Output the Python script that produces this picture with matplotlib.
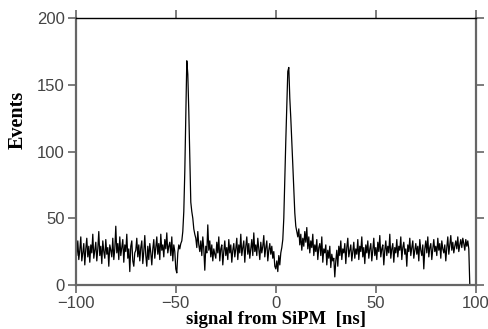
import numpy as np
from matplotlib import pyplot as plt

# Histogram of SiPM signal times, 0.5 ns bins starting at -100 ns
X_START = -100.0
BIN_WIDTH = 0.5

left_baseline = [
    28, 22, 33, 19, 26, 36, 18, 24, 31, 15, 27, 35, 21, 29, 17, 30, 24, 38, 20, 26,
    32, 18, 27, 40, 22, 29, 16, 33, 25, 20, 34, 23, 28, 14, 30, 26, 21, 35, 19, 27,
    44, 24, 31, 19, 36, 22, 28, 34, 17, 30, 25, 38, 20, 27, 10, 29, 33, 18, 14, 24,
    26, 35, 21, 30, 18, 28, 33, 16, 25, 37, 22, 14, 29, 19, 31, 24, 15, 27, 34, 20,
    28, 36, 23, 31, 19, 38, 26, 30, 21, 34, 27, 39, 24, 29, 32, 22, 36, 18, 30, 25,
]
peak1 = [12, 9, 24, 30, 27, 31, 33, 40, 55, 85, 125, 168, 158, 130, 95, 62, 55, 50, 42, 38]
middle = [
    35, 28, 40, 30, 25, 33, 22, 36, 27, 11, 29, 24, 45, 26, 33, 21, 30, 18, 27, 23,
    20, 32, 24, 36, 18, 27, 30, 15, 25, 33, 22, 28, 19, 34, 24, 30, 17, 26, 31, 21,
    27, 35, 19, 30, 24, 38, 22, 28, 33, 17, 29, 36, 23, 31, 20, 27, 34, 22, 39, 25,
    30, 22, 35, 27, 19, 32, 24, 29, 37, 21, 28, 33, 18, 26, 31, 23, 29, 20, 25, 14,
]
peak2 = [12, 18, 10, 22, 15, 24, 28, 34, 50, 80, 108, 135, 160, 163, 140, 125, 108, 90, 72, 54]
right_baseline = [
    44, 40, 36, 42, 30, 38, 26, 35, 29, 40, 32, 43, 27, 36, 24, 33, 28, 38, 22, 30,
    25, 34, 19, 28, 31, 22, 36, 17, 27, 24, 30, 15, 26, 20, 29, 13, 23, 18, 20, 6,
    18, 26, 14, 29, 22, 33, 19, 27, 24, 31, 16, 28, 35, 21, 26, 30, 18, 25, 32, 20,
    27, 23, 34, 19, 29, 25, 36, 21, 28, 16, 30, 24, 33, 20, 27, 31, 18, 26, 35, 22,
    28, 19, 32, 25, 37, 21, 27, 30, 15, 26, 33, 22, 29, 24, 38, 20, 27, 31, 17, 28,
    24, 34, 21, 29, 26, 36, 19, 28, 32, 23, 27, 14, 30, 25, 35, 22, 28, 33, 20, 26,
    31, 23, 29, 18, 34, 26, 22, 30, 12, 27, 33, 24, 36, 21, 28, 31, 19, 27, 34, 25,
    29, 22, 35, 26, 31, 20, 33, 27, 24, 30, 18, 28, 36, 23, 30, 37, 26, 32, 24, 29,
    33, 27, 36, 25, 30, 34, 28, 35, 31, 26, 34, 29, 33, 27, 0,
]

counts = np.array(left_baseline + peak1 + middle + peak2 + right_baseline)
times = X_START + BIN_WIDTH * np.arange(len(counts))

GREY = '#666666'
TICK_GREY = '#444444'

fig = plt.figure(figsize=(4.89, 3.29), dpi=100)
ax = fig.add_axes([0.155, 0.134, 0.818, 0.811])

ax.plot(times, counts, color='black', linewidth=0.9)

ax.set_xlim(-100, 100)
ax.set_ylim(0, 200)
ax.set_xticks([-100, -50, 0, 50, 100])
ax.set_yticks([0, 50, 100, 150, 200])
ax.set_xticklabels(['\u2212100', '\u221250', '0', '50', '100'])

for side in ['left', 'bottom', 'right']:
    ax.spines[side].set_color(GREY)
    ax.spines[side].set_linewidth(1.6)
ax.spines['top'].set_color('black')
ax.spines['top'].set_linewidth(1.0)

ax.tick_params(axis='both', direction='out', length=6, width=1.2, color=GREY,
               labelsize=12, labelcolor=TICK_GREY, pad=2)
ax.tick_params(axis='y', right=True, labelright=False)
ax.tick_params(axis='x', top=True, labeltop=False)
for lab in ax.get_xticklabels() + ax.get_yticklabels():
    lab.set_family('Liberation Sans')

ax.set_xlabel('signal from SiPM  [ns]', family='Liberation Serif', fontweight='bold',
              fontsize=13.5, labelpad=0)
ax.set_ylabel('Events', family='Liberation Serif', fontweight='bold', fontsize=14.5)
ax.yaxis.set_label_coords(-0.12, 0.62)

fig.savefig('out.png', dpi=100)
